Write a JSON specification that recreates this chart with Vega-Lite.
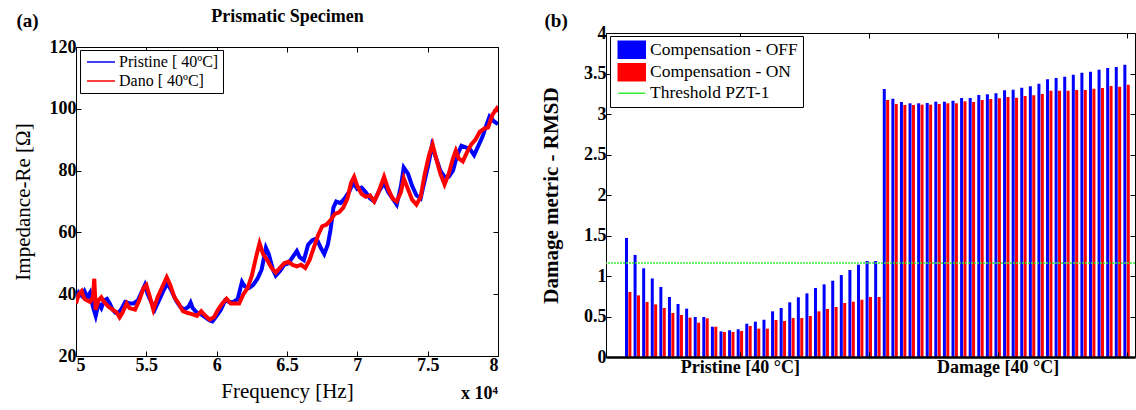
{
"$schema": "https://vega.github.io/schema/vega-lite/v6.json",
"padding": {"left": 12, "top": 7, "right": 0, "bottom": 0},
"config": {
  "font": "Liberation Serif",
  "view": {"stroke": null},
  "axis": {"grid": false, "domainColor": "black", "tickColor": "black", "labelFont": "Liberation Serif", "labelFontSize": 18, "labelFontWeight": "bold", "labelColor": "black", "titleFont": "Liberation Serif", "titleColor": "black", "tickSize": -5, "labelPadding": 5},
  "concat": {"spacing": 41}
},
"resolve": {"scale": {"color": "independent"}, "legend": {"color": "independent"}},
"datasets": {
  "spectra": [
{"f":50000,"z":38,"s":"Pristine [ 40ºC]"},{"f":50200,"z":40.5,"s":"Pristine [ 40ºC]"},{"f":50400,"z":39.5,"s":"Pristine [ 40ºC]"},{"f":50600,"z":41,"s":"Pristine [ 40ºC]"},{"f":50800,"z":39,"s":"Pristine [ 40ºC]"},{"f":51000,"z":40.5,"s":"Pristine [ 40ºC]"},{"f":51200,"z":36,"s":"Pristine [ 40ºC]"},{"f":51400,"z":33,"s":"Pristine [ 40ºC]"},{"f":51600,"z":37,"s":"Pristine [ 40ºC]"},{"f":51800,"z":35.5,"s":"Pristine [ 40ºC]"},{"f":52000,"z":38,"s":"Pristine [ 40ºC]"},{"f":52200,"z":38.5,"s":"Pristine [ 40ºC]"},{"f":52400,"z":37,"s":"Pristine [ 40ºC]"},{"f":52600,"z":35,"s":"Pristine [ 40ºC]"},{"f":52800,"z":34,"s":"Pristine [ 40ºC]"},{"f":53000,"z":34,"s":"Pristine [ 40ºC]"},{"f":53200,"z":35,"s":"Pristine [ 40ºC]"},{"f":53500,"z":37.5,"s":"Pristine [ 40ºC]"},{"f":53800,"z":37,"s":"Pristine [ 40ºC]"},{"f":54100,"z":37,"s":"Pristine [ 40ºC]"},{"f":54400,"z":38,"s":"Pristine [ 40ºC]"},{"f":54700,"z":41,"s":"Pristine [ 40ºC]"},{"f":54900,"z":43,"s":"Pristine [ 40ºC]"},{"f":55100,"z":40,"s":"Pristine [ 40ºC]"},{"f":55300,"z":38,"s":"Pristine [ 40ºC]"},{"f":55600,"z":35,"s":"Pristine [ 40ºC]"},{"f":55900,"z":38,"s":"Pristine [ 40ºC]"},{"f":56200,"z":41,"s":"Pristine [ 40ºC]"},{"f":56500,"z":43.5,"s":"Pristine [ 40ºC]"},{"f":56800,"z":41,"s":"Pristine [ 40ºC]"},{"f":57100,"z":38,"s":"Pristine [ 40ºC]"},{"f":57400,"z":36,"s":"Pristine [ 40ºC]"},{"f":57700,"z":35,"s":"Pristine [ 40ºC]"},{"f":58000,"z":36,"s":"Pristine [ 40ºC]"},{"f":58150,"z":37.3,"s":"Pristine [ 40ºC]"},{"f":58300,"z":35.5,"s":"Pristine [ 40ºC]"},{"f":58600,"z":34,"s":"Pristine [ 40ºC]"},{"f":58900,"z":33.5,"s":"Pristine [ 40ºC]"},{"f":59200,"z":32.5,"s":"Pristine [ 40ºC]"},{"f":59500,"z":31.5,"s":"Pristine [ 40ºC]"},{"f":59700,"z":31.2,"s":"Pristine [ 40ºC]"},{"f":60000,"z":33,"s":"Pristine [ 40ºC]"},{"f":60300,"z":35,"s":"Pristine [ 40ºC]"},{"f":60600,"z":38,"s":"Pristine [ 40ºC]"},{"f":60900,"z":37.5,"s":"Pristine [ 40ºC]"},{"f":61200,"z":37.5,"s":"Pristine [ 40ºC]"},{"f":61500,"z":38.5,"s":"Pristine [ 40ºC]"},{"f":61800,"z":44,"s":"Pristine [ 40ºC]"},{"f":62000,"z":42.5,"s":"Pristine [ 40ºC]"},{"f":62300,"z":42,"s":"Pristine [ 40ºC]"},{"f":62600,"z":43,"s":"Pristine [ 40ºC]"},{"f":62900,"z":45,"s":"Pristine [ 40ºC]"},{"f":63200,"z":48,"s":"Pristine [ 40ºC]"},{"f":63500,"z":55,"s":"Pristine [ 40ºC]"},{"f":63700,"z":53,"s":"Pristine [ 40ºC]"},{"f":64000,"z":48,"s":"Pristine [ 40ºC]"},{"f":64200,"z":46,"s":"Pristine [ 40ºC]"},{"f":64500,"z":47.5,"s":"Pristine [ 40ºC]"},{"f":64800,"z":49.5,"s":"Pristine [ 40ºC]"},{"f":65100,"z":50,"s":"Pristine [ 40ºC]"},{"f":65400,"z":52,"s":"Pristine [ 40ºC]"},{"f":65700,"z":54,"s":"Pristine [ 40ºC]"},{"f":65900,"z":52,"s":"Pristine [ 40ºC]"},{"f":66200,"z":51,"s":"Pristine [ 40ºC]"},{"f":66500,"z":56,"s":"Pristine [ 40ºC]"},{"f":66800,"z":57.5,"s":"Pristine [ 40ºC]"},{"f":67100,"z":58,"s":"Pristine [ 40ºC]"},{"f":67400,"z":55,"s":"Pristine [ 40ºC]"},{"f":67650,"z":53,"s":"Pristine [ 40ºC]"},{"f":67900,"z":56,"s":"Pristine [ 40ºC]"},{"f":68100,"z":61,"s":"Pristine [ 40ºC]"},{"f":68300,"z":68,"s":"Pristine [ 40ºC]"},{"f":68500,"z":70,"s":"Pristine [ 40ºC]"},{"f":68800,"z":69.5,"s":"Pristine [ 40ºC]"},{"f":69100,"z":71,"s":"Pristine [ 40ºC]"},{"f":69400,"z":73,"s":"Pristine [ 40ºC]"},{"f":69700,"z":76,"s":"Pristine [ 40ºC]"},{"f":70000,"z":74,"s":"Pristine [ 40ºC]"},{"f":70300,"z":74.5,"s":"Pristine [ 40ºC]"},{"f":70600,"z":73,"s":"Pristine [ 40ºC]"},{"f":70900,"z":71,"s":"Pristine [ 40ºC]"},{"f":71200,"z":70,"s":"Pristine [ 40ºC]"},{"f":71500,"z":73,"s":"Pristine [ 40ºC]"},{"f":71900,"z":76,"s":"Pristine [ 40ºC]"},{"f":72200,"z":73,"s":"Pristine [ 40ºC]"},{"f":72500,"z":71,"s":"Pristine [ 40ºC]"},{"f":72800,"z":69,"s":"Pristine [ 40ºC]"},{"f":73100,"z":75,"s":"Pristine [ 40ºC]"},{"f":73300,"z":81,"s":"Pristine [ 40ºC]"},{"f":73600,"z":79,"s":"Pristine [ 40ºC]"},{"f":73900,"z":75,"s":"Pristine [ 40ºC]"},{"f":74200,"z":72,"s":"Pristine [ 40ºC]"},{"f":74500,"z":71,"s":"Pristine [ 40ºC]"},{"f":74800,"z":77,"s":"Pristine [ 40ºC]"},{"f":75100,"z":83,"s":"Pristine [ 40ºC]"},{"f":75300,"z":88,"s":"Pristine [ 40ºC]"},{"f":75600,"z":84,"s":"Pristine [ 40ºC]"},{"f":75900,"z":80,"s":"Pristine [ 40ºC]"},{"f":76200,"z":78,"s":"Pristine [ 40ºC]"},{"f":76500,"z":78,"s":"Pristine [ 40ºC]"},{"f":76800,"z":80,"s":"Pristine [ 40ºC]"},{"f":77100,"z":85,"s":"Pristine [ 40ºC]"},{"f":77400,"z":88,"s":"Pristine [ 40ºC]"},{"f":77700,"z":87.5,"s":"Pristine [ 40ºC]"},{"f":78000,"z":87,"s":"Pristine [ 40ºC]"},{"f":78300,"z":85,"s":"Pristine [ 40ºC]"},{"f":78600,"z":88,"s":"Pristine [ 40ºC]"},{"f":78900,"z":91,"s":"Pristine [ 40ºC]"},{"f":79200,"z":95,"s":"Pristine [ 40ºC]"},{"f":79400,"z":97.5,"s":"Pristine [ 40ºC]"},{"f":79700,"z":96,"s":"Pristine [ 40ºC]"},{"f":80000,"z":95,"s":"Pristine [ 40ºC]"},
{"f":50000,"z":37,"s":"Dano  [ 40ºC]"},{"f":50200,"z":40,"s":"Dano  [ 40ºC]"},{"f":50400,"z":41,"s":"Dano  [ 40ºC]"},{"f":50600,"z":38.5,"s":"Dano  [ 40ºC]"},{"f":50800,"z":38,"s":"Dano  [ 40ºC]"},{"f":51000,"z":37.5,"s":"Dano  [ 40ºC]"},{"f":51200,"z":39,"s":"Dano  [ 40ºC]"},{"f":51300,"z":45,"s":"Dano  [ 40ºC]"},{"f":51400,"z":35,"s":"Dano  [ 40ºC]"},{"f":51600,"z":38,"s":"Dano  [ 40ºC]"},{"f":51800,"z":39,"s":"Dano  [ 40ºC]"},{"f":52000,"z":37.5,"s":"Dano  [ 40ºC]"},{"f":52300,"z":36,"s":"Dano  [ 40ºC]"},{"f":52600,"z":35,"s":"Dano  [ 40ºC]"},{"f":52900,"z":34,"s":"Dano  [ 40ºC]"},{"f":53100,"z":32.5,"s":"Dano  [ 40ºC]"},{"f":53300,"z":34,"s":"Dano  [ 40ºC]"},{"f":53600,"z":37,"s":"Dano  [ 40ºC]"},{"f":53800,"z":35.5,"s":"Dano  [ 40ºC]"},{"f":54200,"z":35,"s":"Dano  [ 40ºC]"},{"f":54500,"z":38,"s":"Dano  [ 40ºC]"},{"f":54800,"z":42,"s":"Dano  [ 40ºC]"},{"f":55000,"z":43,"s":"Dano  [ 40ºC]"},{"f":55200,"z":40,"s":"Dano  [ 40ºC]"},{"f":55500,"z":35,"s":"Dano  [ 40ºC]"},{"f":55800,"z":39,"s":"Dano  [ 40ºC]"},{"f":56100,"z":42,"s":"Dano  [ 40ºC]"},{"f":56450,"z":45.5,"s":"Dano  [ 40ºC]"},{"f":56700,"z":43,"s":"Dano  [ 40ºC]"},{"f":57000,"z":39,"s":"Dano  [ 40ºC]"},{"f":57300,"z":37,"s":"Dano  [ 40ºC]"},{"f":57600,"z":34.5,"s":"Dano  [ 40ºC]"},{"f":57900,"z":34,"s":"Dano  [ 40ºC]"},{"f":58300,"z":33.5,"s":"Dano  [ 40ºC]"},{"f":58600,"z":33,"s":"Dano  [ 40ºC]"},{"f":58900,"z":34.5,"s":"Dano  [ 40ºC]"},{"f":59200,"z":33,"s":"Dano  [ 40ºC]"},{"f":59500,"z":31.8,"s":"Dano  [ 40ºC]"},{"f":59800,"z":32.5,"s":"Dano  [ 40ºC]"},{"f":60100,"z":35,"s":"Dano  [ 40ºC]"},{"f":60400,"z":37,"s":"Dano  [ 40ºC]"},{"f":60700,"z":38.5,"s":"Dano  [ 40ºC]"},{"f":61000,"z":37,"s":"Dano  [ 40ºC]"},{"f":61300,"z":37,"s":"Dano  [ 40ºC]"},{"f":61600,"z":37,"s":"Dano  [ 40ºC]"},{"f":61900,"z":40,"s":"Dano  [ 40ºC]"},{"f":62200,"z":42,"s":"Dano  [ 40ºC]"},{"f":62500,"z":46,"s":"Dano  [ 40ºC]"},{"f":62800,"z":52,"s":"Dano  [ 40ºC]"},{"f":63050,"z":56.5,"s":"Dano  [ 40ºC]"},{"f":63300,"z":53,"s":"Dano  [ 40ºC]"},{"f":63600,"z":51,"s":"Dano  [ 40ºC]"},{"f":63900,"z":48.5,"s":"Dano  [ 40ºC]"},{"f":64200,"z":47,"s":"Dano  [ 40ºC]"},{"f":64500,"z":48.5,"s":"Dano  [ 40ºC]"},{"f":64800,"z":50,"s":"Dano  [ 40ºC]"},{"f":65100,"z":50.5,"s":"Dano  [ 40ºC]"},{"f":65400,"z":49.5,"s":"Dano  [ 40ºC]"},{"f":65700,"z":49,"s":"Dano  [ 40ºC]"},{"f":66000,"z":49.5,"s":"Dano  [ 40ºC]"},{"f":66300,"z":48.5,"s":"Dano  [ 40ºC]"},{"f":66600,"z":51,"s":"Dano  [ 40ºC]"},{"f":66900,"z":55,"s":"Dano  [ 40ºC]"},{"f":67200,"z":59,"s":"Dano  [ 40ºC]"},{"f":67500,"z":62,"s":"Dano  [ 40ºC]"},{"f":67800,"z":62.5,"s":"Dano  [ 40ºC]"},{"f":68100,"z":64,"s":"Dano  [ 40ºC]"},{"f":68400,"z":66,"s":"Dano  [ 40ºC]"},{"f":68700,"z":66.5,"s":"Dano  [ 40ºC]"},{"f":69000,"z":68,"s":"Dano  [ 40ºC]"},{"f":69300,"z":71,"s":"Dano  [ 40ºC]"},{"f":69550,"z":76,"s":"Dano  [ 40ºC]"},{"f":69770,"z":78,"s":"Dano  [ 40ºC]"},{"f":70000,"z":75,"s":"Dano  [ 40ºC]"},{"f":70300,"z":72.5,"s":"Dano  [ 40ºC]"},{"f":70600,"z":71.5,"s":"Dano  [ 40ºC]"},{"f":70900,"z":72,"s":"Dano  [ 40ºC]"},{"f":71200,"z":70,"s":"Dano  [ 40ºC]"},{"f":71500,"z":73,"s":"Dano  [ 40ºC]"},{"f":71900,"z":78,"s":"Dano  [ 40ºC]"},{"f":72200,"z":74,"s":"Dano  [ 40ºC]"},{"f":72500,"z":71,"s":"Dano  [ 40ºC]"},{"f":72800,"z":70,"s":"Dano  [ 40ºC]"},{"f":73100,"z":73,"s":"Dano  [ 40ºC]"},{"f":73300,"z":77.5,"s":"Dano  [ 40ºC]"},{"f":73600,"z":74,"s":"Dano  [ 40ºC]"},{"f":73900,"z":70.5,"s":"Dano  [ 40ºC]"},{"f":74200,"z":69,"s":"Dano  [ 40ºC]"},{"f":74500,"z":71.5,"s":"Dano  [ 40ºC]"},{"f":74800,"z":79,"s":"Dano  [ 40ºC]"},{"f":75100,"z":85,"s":"Dano  [ 40ºC]"},{"f":75350,"z":88.5,"s":"Dano  [ 40ºC]"},{"f":75600,"z":84,"s":"Dano  [ 40ºC]"},{"f":75900,"z":79,"s":"Dano  [ 40ºC]"},{"f":76200,"z":75.5,"s":"Dano  [ 40ºC]"},{"f":76500,"z":79,"s":"Dano  [ 40ºC]"},{"f":76800,"z":84,"s":"Dano  [ 40ºC]"},{"f":77000,"z":86.5,"s":"Dano  [ 40ºC]"},{"f":77200,"z":84,"s":"Dano  [ 40ºC]"},{"f":77500,"z":83,"s":"Dano  [ 40ºC]"},{"f":77800,"z":86,"s":"Dano  [ 40ºC]"},{"f":78100,"z":88.5,"s":"Dano  [ 40ºC]"},{"f":78400,"z":90,"s":"Dano  [ 40ºC]"},{"f":78700,"z":92.5,"s":"Dano  [ 40ºC]"},{"f":79000,"z":93.5,"s":"Dano  [ 40ºC]"},{"f":79300,"z":94,"s":"Dano  [ 40ºC]"},{"f":79600,"z":98,"s":"Dano  [ 40ºC]"},{"f":79900,"z":100,"s":"Dano  [ 40ºC]"},{"f":80000,"z":99,"s":"Dano  [ 40ºC]"}
  ],
  "rmsd": [
{"i":2,"s":"Compensation - OFF","v":1.47},{"i":3,"s":"Compensation - OFF","v":1.26},{"i":4,"s":"Compensation - OFF","v":1.095},{"i":5,"s":"Compensation - OFF","v":0.97},{"i":6,"s":"Compensation - OFF","v":0.864},{"i":7,"s":"Compensation - OFF","v":0.741},{"i":8,"s":"Compensation - OFF","v":0.654},{"i":9,"s":"Compensation - OFF","v":0.597},{"i":10,"s":"Compensation - OFF","v":0.494},{"i":11,"s":"Compensation - OFF","v":0.494},{"i":12,"s":"Compensation - OFF","v":0.374},{"i":13,"s":"Compensation - OFF","v":0.317},{"i":14,"s":"Compensation - OFF","v":0.33},{"i":15,"s":"Compensation - OFF","v":0.342},{"i":16,"s":"Compensation - OFF","v":0.411},{"i":17,"s":"Compensation - OFF","v":0.436},{"i":18,"s":"Compensation - OFF","v":0.46},{"i":19,"s":"Compensation - OFF","v":0.564},{"i":20,"s":"Compensation - OFF","v":0.605},{"i":21,"s":"Compensation - OFF","v":0.675},{"i":22,"s":"Compensation - OFF","v":0.737},{"i":23,"s":"Compensation - OFF","v":0.786},{"i":24,"s":"Compensation - OFF","v":0.852},{"i":25,"s":"Compensation - OFF","v":0.897},{"i":26,"s":"Compensation - OFF","v":0.942},{"i":27,"s":"Compensation - OFF","v":1.012},{"i":28,"s":"Compensation - OFF","v":1.074},{"i":29,"s":"Compensation - OFF","v":1.14},{"i":30,"s":"Compensation - OFF","v":1.185},{"i":31,"s":"Compensation - OFF","v":1.185},
{"i":32,"s":"Compensation - OFF","v":3.309},{"i":33,"s":"Compensation - OFF","v":3.189},{"i":34,"s":"Compensation - OFF","v":3.148},{"i":35,"s":"Compensation - OFF","v":3.132},{"i":36,"s":"Compensation - OFF","v":3.132},{"i":37,"s":"Compensation - OFF","v":3.136},{"i":38,"s":"Compensation - OFF","v":3.152},{"i":39,"s":"Compensation - OFF","v":3.152},{"i":40,"s":"Compensation - OFF","v":3.165},{"i":41,"s":"Compensation - OFF","v":3.198},{"i":42,"s":"Compensation - OFF","v":3.198},{"i":43,"s":"Compensation - OFF","v":3.235},{"i":44,"s":"Compensation - OFF","v":3.243},{"i":45,"s":"Compensation - OFF","v":3.255},{"i":46,"s":"Compensation - OFF","v":3.292},{"i":47,"s":"Compensation - OFF","v":3.3},{"i":48,"s":"Compensation - OFF","v":3.325},{"i":49,"s":"Compensation - OFF","v":3.342},{"i":50,"s":"Compensation - OFF","v":3.374},{"i":51,"s":"Compensation - OFF","v":3.428},{"i":52,"s":"Compensation - OFF","v":3.444},{"i":53,"s":"Compensation - OFF","v":3.461},{"i":54,"s":"Compensation - OFF","v":3.486},{"i":55,"s":"Compensation - OFF","v":3.51},{"i":56,"s":"Compensation - OFF","v":3.523},{"i":57,"s":"Compensation - OFF","v":3.547},{"i":58,"s":"Compensation - OFF","v":3.568},{"i":59,"s":"Compensation - OFF","v":3.58},{"i":60,"s":"Compensation - OFF","v":3.609},
{"i":2,"s":"Compensation - ON","v":0.802},{"i":3,"s":"Compensation - ON","v":0.761},{"i":4,"s":"Compensation - ON","v":0.679},{"i":5,"s":"Compensation - ON","v":0.65},{"i":6,"s":"Compensation - ON","v":0.605},{"i":7,"s":"Compensation - ON","v":0.543},{"i":8,"s":"Compensation - ON","v":0.519},{"i":9,"s":"Compensation - ON","v":0.486},{"i":10,"s":"Compensation - ON","v":0.424},{"i":11,"s":"Compensation - ON","v":0.477},{"i":12,"s":"Compensation - ON","v":0.374},{"i":13,"s":"Compensation - ON","v":0.309},{"i":14,"s":"Compensation - ON","v":0.309},{"i":15,"s":"Compensation - ON","v":0.321},{"i":16,"s":"Compensation - ON","v":0.383},{"i":17,"s":"Compensation - ON","v":0.35},{"i":18,"s":"Compensation - ON","v":0.35},{"i":19,"s":"Compensation - ON","v":0.457},{"i":20,"s":"Compensation - ON","v":0.444},{"i":21,"s":"Compensation - ON","v":0.481},{"i":22,"s":"Compensation - ON","v":0.481},{"i":23,"s":"Compensation - ON","v":0.506},{"i":24,"s":"Compensation - ON","v":0.564},{"i":25,"s":"Compensation - ON","v":0.593},{"i":26,"s":"Compensation - ON","v":0.617},{"i":27,"s":"Compensation - ON","v":0.667},{"i":28,"s":"Compensation - ON","v":0.683},{"i":29,"s":"Compensation - ON","v":0.707},{"i":30,"s":"Compensation - ON","v":0.741},{"i":31,"s":"Compensation - ON","v":0.741},
{"i":32,"s":"Compensation - ON","v":3.173},{"i":33,"s":"Compensation - ON","v":3.123},{"i":34,"s":"Compensation - ON","v":3.111},{"i":35,"s":"Compensation - ON","v":3.111},{"i":36,"s":"Compensation - ON","v":3.115},{"i":37,"s":"Compensation - ON","v":3.115},{"i":38,"s":"Compensation - ON","v":3.123},{"i":39,"s":"Compensation - ON","v":3.132},{"i":40,"s":"Compensation - ON","v":3.132},{"i":41,"s":"Compensation - ON","v":3.156},{"i":42,"s":"Compensation - ON","v":3.148},{"i":43,"s":"Compensation - ON","v":3.173},{"i":44,"s":"Compensation - ON","v":3.185},{"i":45,"s":"Compensation - ON","v":3.193},{"i":46,"s":"Compensation - ON","v":3.21},{"i":47,"s":"Compensation - ON","v":3.202},{"i":48,"s":"Compensation - ON","v":3.222},{"i":49,"s":"Compensation - ON","v":3.23},{"i":50,"s":"Compensation - ON","v":3.247},{"i":51,"s":"Compensation - ON","v":3.288},{"i":52,"s":"Compensation - ON","v":3.288},{"i":53,"s":"Compensation - ON","v":3.288},{"i":54,"s":"Compensation - ON","v":3.296},{"i":55,"s":"Compensation - ON","v":3.296},{"i":56,"s":"Compensation - ON","v":3.313},{"i":57,"s":"Compensation - ON","v":3.321},{"i":58,"s":"Compensation - ON","v":3.346},{"i":59,"s":"Compensation - ON","v":3.337},{"i":60,"s":"Compensation - ON","v":3.362}
  ],
  "threshold": [{"s": "Threshold PZT-1", "v": 1.16}]
},
"hconcat": [
 {
  "width": 422, "height": 323,
  "layer": [
   {
    "data": {"name": "spectra"},
    "mark": {"type": "line", "strokeWidth": 4, "clip": true},
    "encoding": {
     "x": {"field": "f", "type": "quantitative", "scale": {"domain": [50000, 80000], "nice": false, "zero": false},
       "axis": {"orient": "bottom", "values": [50000, 55000, 60000, 65000, 70000, 75000, 80000], "labelExpr": "'' + (datum.value / 10000)", "title": "Frequency [Hz]", "titleFontSize": 21, "titleFontWeight": "normal", "titlePadding": 6}},
     "y": {"field": "z", "type": "quantitative", "scale": {"domain": [20, 120], "range": [323, 14], "nice": false, "zero": false},
       "axis": {"orient": "left", "values": [20, 40, 60, 80, 100, 120], "title": "Impedance-Re [Ω]", "titleFontSize": 21, "titleFontWeight": "normal", "titlePadding": 16}},
     "color": {"field": "s", "type": "nominal", "sort": ["Pristine [ 40ºC]", "Dano  [ 40ºC]"],
       "scale": {"domain": ["Pristine [ 40ºC]", "Dano  [ 40ºC]"], "range": ["#0000ff", "#ff0000"]},
       "legend": {"orient": "none", "legendX": 4, "legendY": 17, "title": null, "symbolType": "M-2,0H2", "symbolSize": 196, "symbolStrokeWidth": 1.5, "symbolOffset": 9, "labelFontSize": 16, "labelFont": "Liberation Serif", "labelFontWeight": "normal", "labelColor": "black", "strokeColor": "black", "fillColor": "white", "padding": 4, "rowPadding": 3, "labelOffset": 10}}
    }
   },
   {
    "data": {"values": [{}]},
    "mark": {"type": "text", "text": "x 10⁴", "align": "right", "baseline": "middle", "dy": 38, "fontSize": 18, "fontWeight": "bold", "font": "Liberation Serif", "color": "black"},
    "encoding": {
     "x": {"datum": 80000, "type": "quantitative", "axis": {"orient": "top", "offset": -14, "labels": false, "values": [50000, 55000, 60000, 65000, 70000, 75000, 80000], "title": "Prismatic Specimen", "titleFontSize": 18, "titleFontWeight": "bold", "titlePadding": 21}},
     "y": {"datum": 20, "type": "quantitative", "axis": {"orient": "right", "labels": false, "values": [20, 40, 60, 80, 100, 120], "title": "(a)", "titleX": -482, "titleY": -13, "titleAngle": 0, "titleAlign": "left", "titleBaseline": "middle", "titleFontSize": 19, "titleFontWeight": "bold"}}
    }
   }
  ],
  "resolve": {"axis": {"x": "independent", "y": "independent"}}
 },
 {
  "width": 529, "height": 324,
  "layer": [
   {
    "data": {"name": "rmsd"},
    "transform": [{"filter": "datum.s == 'Compensation - OFF'"}],
    "mark": {"type": "bar", "width": 3, "xOffset": -1.7},
    "encoding": {
     "x": {"field": "i", "type": "quantitative", "scale": {"domain": [0, 60.4], "nice": false, "zero": false},
       "axis": {"orient": "bottom", "values": [15, 30, 45, 60], "labelExpr": "datum.value == 15 ? 'Pristine [40 °C]' : datum.value == 45 ? 'Damage [40 °C]' : ''", "title": null, "domainWidth": 2.5, "zindex": 1, "labelPadding": 6}},
     "y": {"field": "v", "type": "quantitative", "stack": null, "scale": {"domain": [0, 4], "nice": false, "zero": true},
       "axis": {"orient": "left", "values": [0, 0.5, 1, 1.5, 2, 2.5, 3, 3.5, 4], "labelExpr": "'' + datum.value", "title": "Damage metric - RMSD", "titleFontSize": 21, "titleFontWeight": "bold", "titlePadding": 22}},
     "color": {"field": "s", "type": "nominal",
       "scale": {"domain": ["Compensation - OFF", "Compensation - ON", "Threshold PZT-1"], "range": ["#0000ff", "#ff0000", "#33ee33"]},
       "legend": {"orient": "none", "legendX": 4, "legendY": 3, "title": null, "symbolType": "M-2,-1.26H2V1.26H-2Z", "symbolSize": 182, "symbolStrokeWidth": 1.5, "symbolOffset": 8, "labelFontSize": 17.5, "labelFont": "Liberation Serif", "labelFontWeight": "normal", "labelColor": "black", "strokeColor": "black", "fillColor": "white", "padding": 5, "rowPadding": -1.5, "labelOffset": 9.5,
         "encode": {"symbols": {"update": {
           "shape": {"signal": "datum.value === 'Threshold PZT-1' ? 'M-2,0H2' : 'M-2,-1.26H2V1.26H-2Z'"},
           "fill": {"signal": "datum.value === 'Compensation - OFF' ? '#1c2a8c' : datum.value === 'Compensation - ON' ? '#ff0000' : 'transparent'"},
           "stroke": {"signal": "datum.value === 'Compensation - OFF' ? '#0000ff' : datum.value === 'Compensation - ON' ? '#ff0000' : '#33ee33'"}
         }}}}}
    }
   },
   {
    "data": {"name": "rmsd"},
    "transform": [{"filter": "datum.s == 'Compensation - ON'"}],
    "mark": {"type": "bar", "width": 3, "xOffset": 1.7},
    "encoding": {
     "x": {"field": "i", "type": "quantitative", "axis": {"orient": "top", "labels": false, "values": [15, 30, 45, 60], "title": "(b)", "titleX": -62, "titleY": -13, "titleAlign": "left", "titleBaseline": "middle", "titleFontSize": 19, "titleFontWeight": "bold"}},
     "y": {"field": "v", "type": "quantitative", "stack": null, "axis": {"orient": "right", "labels": false, "values": [0, 0.5, 1, 1.5, 2, 2.5, 3, 3.5, 4], "title": null}},
     "color": {"field": "s", "type": "nominal"}
    }
   },
   {
    "data": {"name": "threshold"},
    "mark": {"type": "rule", "strokeDash": [2, 1], "strokeWidth": 1.5},
    "encoding": {
     "y": {"field": "v", "type": "quantitative", "axis": null},
     "color": {"field": "s", "type": "nominal"}
    }
   }
  ],
  "resolve": {"axis": {"x": "independent", "y": "independent"}}
 }
]
}
